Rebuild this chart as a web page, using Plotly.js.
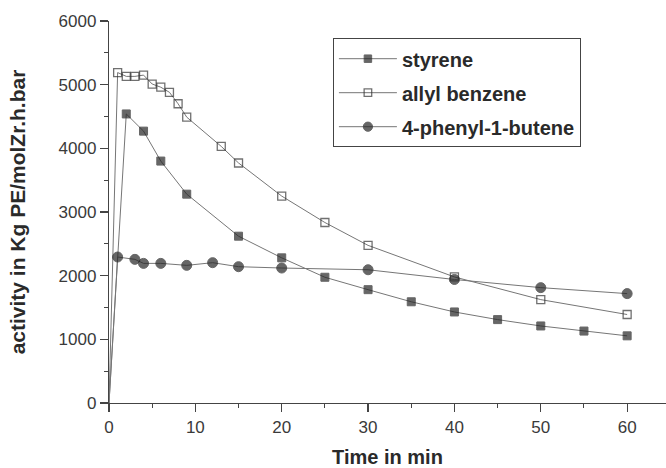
<!DOCTYPE html>
<html>
<head>
<meta charset="utf-8">
<script src="https://cdn.plot.ly/plotly-3.0.1.min.js"></script>
<style>html,body{margin:0;padding:0;background:#fff;}#chart{width:666px;height:468px;}</style>
</head>
<body>
<div id="chart"></div>
<script>
// Time (min) and activity (Kg PE/molZr.h.bar)
var styreneTime = [0, 2, 4, 6, 9, 15, 20, 25, 30, 35, 40, 45, 50, 55, 60];
var styreneActivity = [0, 4540, 4270, 3800, 3280, 2620, 2280, 1975, 1780, 1590, 1430, 1310, 1210, 1130, 1055];

var allylTime = [0, 1, 2, 3, 4, 5, 6, 7, 8, 9, 13, 15, 20, 25, 30, 40, 50, 60];
var allylActivity = [0, 5190, 5130, 5130, 5150, 5010, 4960, 4880, 4700, 4490, 4030, 3770, 3250, 2835, 2476, 1980, 1624, 1390];

var butenTime = [0, 1, 3, 4, 6, 9, 12, 15, 20, 30, 40, 50, 60];
var butenActivity = [0, 2293, 2256, 2193, 2193, 2162, 2204, 2141, 2120, 2093, 1940, 1812, 1718];

var seriesNames = ["styrene", "allyl benzene", "4-phenyl-1-butene"];

var xTitle = "Time in min";
var yTitle = "activity in Kg PE/molZr.h.bar";

function sizes(t, s) { return t.map(function (v) { return v === 0 ? 0 : s; }); }

var lineColor = "#767676";
var dark = "#262626";

var traces = [
  {
    x: styreneTime, y: styreneActivity, name: seriesNames[0], mode: "lines+markers",
    legendgroup: "a",
    line: {color: lineColor, width: 1},
    marker: {symbol: "square", size: sizes(styreneTime, 8), color: dark, line: {color: dark, width: 1}}
  },
  {
    x: allylTime, y: allylActivity, name: seriesNames[1], mode: "lines+markers",
    legendgroup: "b",
    line: {color: lineColor, width: 1},
    marker: {symbol: "square-open", size: sizes(allylTime, 8), color: "#333", line: {color: "#333", width: 1.3}}
  },
  {
    x: butenTime, y: butenActivity, name: seriesNames[2], mode: "lines+markers",
    legendgroup: "c",
    line: {color: lineColor, width: 1},
    marker: {symbol: "circle", size: sizes(butenTime, 10), color: dark, line: {color: dark, width: 1}}
  }
];

var fam = "Liberation Sans, Arial, sans-serif";
var tickFont = {family: fam, size: 17, color: "#3a3a3a"};

var layout = {
  width: 666, height: 468,
  margin: {l: 109, r: 0, t: 21, b: 65},
  paper_bgcolor: "#fff", plot_bgcolor: "#fff",
  showlegend: true,
  legend: {
    x: 0.402, y: 0.955, xanchor: "left", yanchor: "top",
    bgcolor: "#fff", bordercolor: "#444", borderwidth: 1,
    font: {family: fam, size: 20, color: "#2a2a2a", weight: "bold"},
    itemwidth: 58, traceorder: "grouped", tracegroupgap: 5
  },
  xaxis: {
    range: [0, 64.5], dtick: 10, tick0: 0,
    showgrid: false, zeroline: false,
    showline: true, linecolor: "#444", linewidth: 1.2,
    ticks: "outside", ticklen: 8, tickwidth: 1.2, tickcolor: "#444",
    minor: {dtick: 5, ticks: "outside", ticklen: 4, tickwidth: 1, tickcolor: "#444", showgrid: false},
    tickfont: tickFont,
    title: {text: xTitle, font: {family: fam, size: 20, color: "#2a2a2a", weight: "bold"}, standoff: 15}
  },
  yaxis: {
    range: [0, 6000], dtick: 1000, tick0: 0,
    showgrid: false, zeroline: false,
    showline: true, linecolor: "#444", linewidth: 1.2,
    ticks: "outside", ticklen: 8, tickwidth: 1.2, tickcolor: "#444",
    minor: {dtick: 500, ticks: "outside", ticklen: 4, tickwidth: 1, tickcolor: "#444", showgrid: false},
    tickfont: tickFont,
    title: {text: yTitle, font: {family: fam, size: 21, color: "#2a2a2a", weight: "bold"}, standoff: 27}
  }
};

Plotly.newPlot("chart", traces, layout, {displayModeBar: false, staticPlot: true});
</script>
</body>
</html>
